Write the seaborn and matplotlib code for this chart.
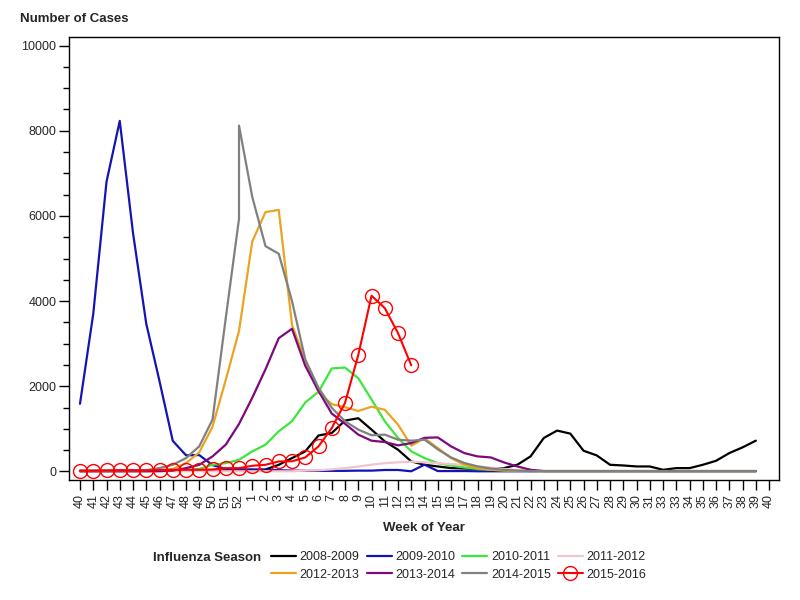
import numpy as np
import pandas as pd
import seaborn as sns
import matplotlib.pyplot as plt
from matplotlib.lines import Line2D
from matplotlib.ticker import MultipleLocator

# tick labels along the x axis, as printed on the chart
week_labels = [str(w) for w in range(40, 53)] + [str(w) for w in range(1, 32)] + \
    ["33", "33"] + [str(w) for w in range(34, 41)]

seasons = ["2008-2009", "2009-2010", "2010-2011", "2011-2012",
           "2012-2013", "2013-2014", "2014-2015", "2015-2016"]
colors = ["#000000", "#1414b4", "#3ce63c", "#f2c4cc",
          "#eba422", "#7d0a7d", "#808080", "#ff0000"]

weeks_std = list(range(40, 53)) + list(range(1, 40))
weeks_53 = list(range(40, 54)) + list(range(1, 40))
weeks_2016 = list(range(40, 53)) + list(range(1, 14))

cases_0809 = [10, 10, 10, 10, 10, 10, 10, 15, 15, 20, 20, 25, 25,
              30, 47, 157, 314, 472, 845, 903, 1195, 1250, 983, 707, 511, 236,
              157, 118, 80, 70, 60, 60, 80, 157, 354, 786, 960, 889, 487,
              377, 157, 141, 118, 118, 39, 79, 79, 157, 251, 432, 566, 723]
cases_0910 = [1590, 3700, 6800, 8230, 5600, 3470, 2120, 720, 380, 385, 150, 60, 50,
              50, 40, 30, 20, 15, 15, 15, 15, 20, 20, 35, 35, 5,
              160, 10, 10, 10, 5, 5, 5, 5, 5, 5, 5, 5, 5,
              5, 5, 5, 5, 5, 5, 5, 5, 5, 5, 5, 5, 5]
cases_1011 = [10, 10, 10, 10, 15, 15, 20, 30, 40, 60, 157, 196, 275,
              472, 629, 943, 1180, 1620, 1870, 2420, 2440, 2190, 1690, 1180, 786, 472,
              314, 196, 141, 94, 60, 40, 25, 15, 10, 5, 5, 5, 5,
              5, 5, 5, 5, 5, 5, 5, 5, 5, 5, 5, 5, 5]
cases_1112 = [5, 5, 5, 5, 5, 5, 5, 5, 5, 5, 5, 5, 5,
              5, 5, 5, 5, 20, 30, 50, 80, 115, 160, 195, 215, 230,
              215, 195, 175, 150, 120, 90, 60, 30, 15, 5, 5, 5, 5,
              5, 5, 5, 5, 5, 5, 5, 5, 5, 5, 5, 5, 5]
cases_1213 = [10, 10, 15, 15, 20, 25, 30, 60, 196, 450, 1050, 2150, 3300,
              5400, 6090, 6140, 3440, 2610, 1860, 1580, 1510, 1420, 1520, 1450, 1100, 605,
              780, 550, 314, 157, 79, 40, 25, 15, 10, 10, 10, 10, 10,
              10, 10, 10, 10, 10, 10, 10, 10, 10, 10, 10, 10, 10]
cases_1314 = [5, 5, 5, 5, 5, 5, 10, 20, 79, 157, 354, 630, 1116,
              1730, 2400, 3130, 3350, 2480, 1890, 1360, 1120, 865, 723, 691, 613, 667,
              790, 800, 590, 432, 354, 330, 212, 118, 40, 10, 10, 10, 10,
              10, 10, 10, 10, 10, 10, 10, 10, 10, 10, 10, 10, 10]
cases_1415 = [20, 20, 20, 25, 25, 30, 80, 157, 314, 590, 1218, 3600, 5935, 8120,
              6445, 5290, 5110, 4000, 2630, 1965, 1494, 1180, 983, 850, 865, 747, 723,
              747, 520, 330, 200, 120, 70, 40, 20, 10, 10, 10, 10, 10,
              10, 10, 10, 10, 10, 10, 10, 10, 10, 10, 10, 10, 10]
cases_1516 = [20, 20, 25, 30, 30, 25, 35, 40, 40, 40, 47, 79, 79,
              134, 157, 236, 240, 330, 590, 1020, 1610, 2735, 4126, 3836, 3247, 2492]

season_data = {
    "2008-2009": (weeks_std, cases_0809),
    "2009-2010": (weeks_std, cases_0910),
    "2010-2011": (weeks_std, cases_1011),
    "2011-2012": (weeks_std, cases_1112),
    "2012-2013": (weeks_std, cases_1213),
    "2013-2014": (weeks_std, cases_1314),
    "2014-2015": (weeks_53, cases_1415),
    "2015-2016": (weeks_2016, cases_1516),
}


def week_slot(w):
    # weeks 40-52 first, week 53 shares the week 52 slot, then 1-40
    if w >= 40:
        return min(w, 52) - 40
    return w + 12


rows = []
for s in seasons:
    wk, vals = season_data[s]
    for order, (w, v) in enumerate(zip(wk, vals)):
        rows.append({"season": s, "order": order, "slot": week_slot(w), "cases": v})
df = pd.DataFrame(rows)

sns.set_theme(style="ticks")
plt.rcParams['font.family'] = ['Liberation Sans', 'DejaVu Sans']

fig = plt.figure(figsize=(8, 6), dpi=100)
ax = fig.add_axes([69 / 800, 1 - 480 / 600, 710 / 800, 443 / 600])

for s, c in zip(seasons, colors):
    sub = df[df.season == s].sort_values("order")
    if s == "2015-2016":
        sns.lineplot(data=sub, x="slot", y="cases", ax=ax, color=c, linewidth=1.5,
                     estimator=None, sort=False, marker="o", markersize=10,
                     markerfacecolor="none", markeredgecolor=c, markeredgewidth=1.0,
                     zorder=5)
    else:
        sns.lineplot(data=sub, x="slot", y="cases", ax=ax, color=c, linewidth=1.6,
                     estimator=None, sort=False)

ax.set_xlim(-0.83, 52.75)
ax.set_ylim(-200, 10200)
ax.set_xticks(range(len(week_labels)))
ax.set_xticklabels(week_labels, rotation=90, fontsize=9)
ax.set_yticks(range(0, 10001, 2000))
ax.set_yticklabels([str(v) for v in range(0, 10001, 2000)], fontsize=9)
ax.yaxis.set_minor_locator(MultipleLocator(500))
ax.tick_params(axis="x", direction="out", length=7, width=1, color="black", pad=3)
ax.tick_params(axis="y", which="major", direction="out", length=7, width=1, color="black", pad=2)
ax.tick_params(axis="y", which="minor", direction="out", length=4, width=1, color="black")
for sp in ax.spines.values():
    sp.set_visible(True)
    sp.set_color("black")
    sp.set_linewidth(1)
ax.set_xlabel("")
ax.set_ylabel("")

fig.text(20 / 800, 1 - 19 / 600, "Number of Cases", fontsize=9.5, fontweight="bold",
         ha="left", va="center")
fig.text(424 / 800, 1 - 528 / 600, "Week of Year", fontsize=9.5, fontweight="bold",
         ha="center", va="center")
fig.text(153 / 800, 1 - 558 / 600, "Influenza Season", fontsize=9.5, fontweight="bold",
         ha="left", va="center")

handles = {}
for s, c in zip(seasons, colors):
    if s == "2015-2016":
        handles[s] = Line2D([], [], color=c, linewidth=1.5, marker="o", markersize=10,
                            markerfacecolor="none", markeredgecolor=c)
    else:
        handles[s] = Line2D([], [], color=c, linewidth=1.6)
leg_order = ["2008-2009", "2012-2013", "2009-2010", "2013-2014",
             "2010-2011", "2014-2015", "2011-2012", "2015-2016"]
fig.legend([handles[s] for s in leg_order], leg_order, ncol=4, frameon=False,
           loc="upper left", bbox_to_anchor=(271 / 800, 1 - 551 / 600),
           fontsize=9, handlelength=2.0, handletextpad=0.3, columnspacing=0.55,
           labelspacing=0.45, borderpad=0, borderaxespad=0)

fig.savefig("out.png", dpi=100)
